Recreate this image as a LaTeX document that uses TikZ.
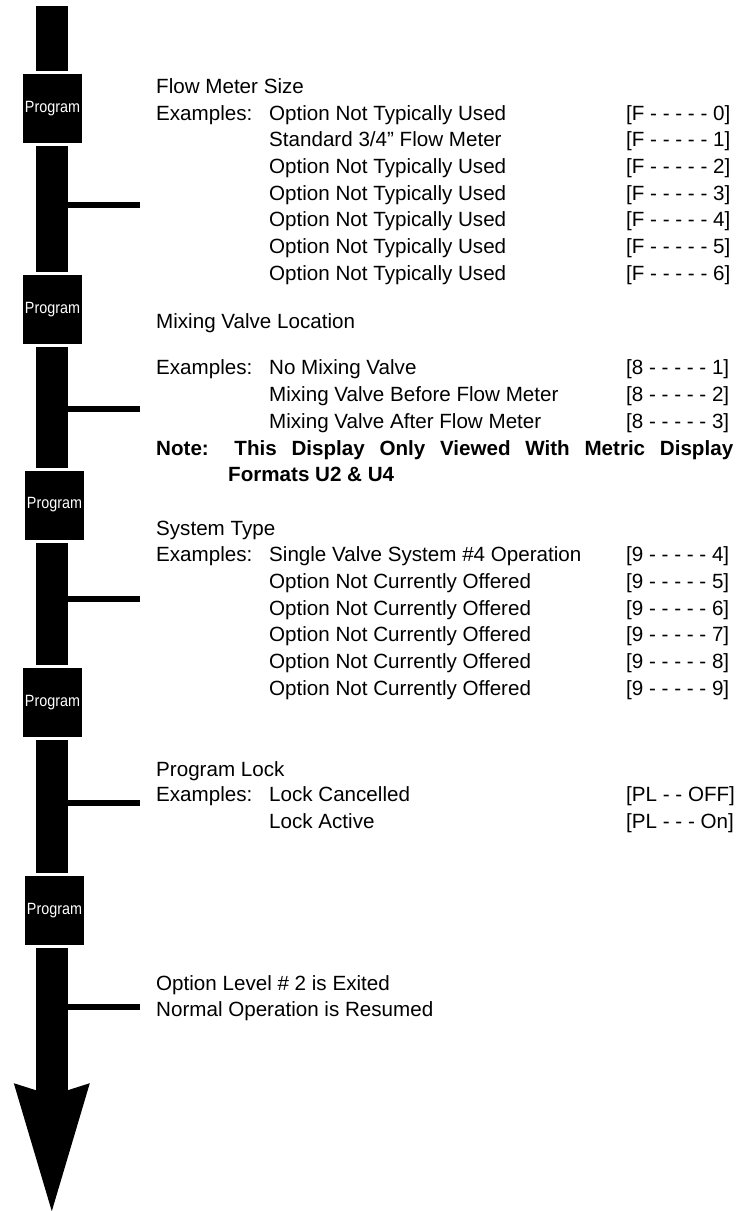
\documentclass[tikz,border=0pt]{standalone}
\usepackage{fontspec}
\setmainfont{Liberation Sans}
\usepackage{graphicx}
\begin{document}
\begin{tikzpicture}[x=1pt,y=-1pt,
  bar/.style={fill=black,inner sep=0pt,minimum width=32pt},
  prog/.style={fill=black,text=white,inner sep=0pt,minimum width=59pt,minimum height=69pt,font=\fontsize{16.3}{18}\selectfont},
  conn/.style={line width=6pt},
  txt/.style={anchor=base west,inner sep=0pt,font=\fontsize{20.6}{24}\selectfont},
  btxt/.style={txt,font=\fontsize{20.6}{24}\selectfont\bfseries},
]
\useasboundingbox (0,0) rectangle (752,1211);
% flow column
\node[bar,minimum height=65pt] (b0) at (52,38.5) {};
\node[prog] (p1) at (52.5,108.5) {\scalebox{0.88}[1]{Program}};
\node[bar,minimum height=126pt] (b1) at (52,209) {};
\node[prog] (p2) at (52.5,309.5) {\scalebox{0.88}[1]{Program}};
\node[bar,minimum height=121pt] (b2) at (52,407.5) {};
\node[prog] (p3) at (54.5,505) {\scalebox{0.88}[1]{Program}};
\node[bar,minimum height=122pt] (b3) at (52,604) {};
\node[prog] (p4) at (52.5,702.5) {\scalebox{0.88}[1]{Program}};
\node[bar,minimum height=133pt] (b4) at (52,806.5) {};
\node[prog] (p5) at (54.5,910.5) {\scalebox{0.88}[1]{Program}};
\node[bar,minimum height=142pt] (b5) at (52,1019) {};
\fill (b5.south west) -- ++(-22,-7) -- ++(38,128) -- ++(38,-128) -- ++(-22,7) -- cycle;
% connectors
\coordinate (c1) at (140,205);
\coordinate (c2) at (140,409);
\coordinate (c3) at (140,599);
\coordinate (c4) at (140,803);
\coordinate (c5) at (140,1007);
\draw[conn] (b1.east |- c1) -- (c1);
\draw[conn] (b2.east |- c2) -- (c2);
\draw[conn] (b3.east |- c3) -- (c3);
\draw[conn] (b4.east |- c4) -- (c4);
\draw[conn] (b5.east |- c5) -- (c5);
% section 1
\node[txt] (s1t) at (156,93.3) {Flow Meter Size};
\node[txt] (s1e) at (156,120) {Examples:};
\node[txt] (s1d0) at (269,120) {Option Not Typically Used};
\node[txt] (s1d1) at (269,146.7) {Standard 3/4” Flow Meter};
\node[txt] (s1d2) at (269,173.3) {Option Not Typically Used};
\node[txt] (s1d3) at (269,200) {Option Not Typically Used};
\node[txt] (s1d4) at (269,226.7) {Option Not Typically Used};
\node[txt] (s1d5) at (269,253.3) {Option Not Typically Used};
\node[txt] (s1d6) at (269,280) {Option Not Typically Used};
\node[txt] (s1c0) at (626,120) {[F - - - - - 0]};
\node[txt] (s1c1) at (626,146.7) {[F - - - - - 1]};
\node[txt] (s1c2) at (626,173.3) {[F - - - - - 2]};
\node[txt] (s1c3) at (626,200) {[F - - - - - 3]};
\node[txt] (s1c4) at (626,226.7) {[F - - - - - 4]};
\node[txt] (s1c5) at (626,253.3) {[F - - - - - 5]};
\node[txt] (s1c6) at (626,280) {[F - - - - - 6]};
% section 2
\node[txt] (s2t) at (156,328) {Mixing Valve Location};
\node[txt] (s2e) at (156,374.7) {Examples:};
\node[txt] (s2d1) at (269,374.7) {No Mixing Valve};
\node[txt] (s2d2) at (269,401.3) {Mixing Valve Before Flow Meter};
\node[txt] (s2d3) at (269,428) {Mixing Valve After Flow Meter};
\node[txt] (s2c1) at (626,374.7) {[8 - - - - - 1]};
\node[txt] (s2c2) at (626,401.3) {[8 - - - - - 2]};
\node[txt] (s2c3) at (626,428) {[8 - - - - - 3]};
\node[btxt] (s2n1) at (156,455) {\makebox[577pt][s]{Note: This Display Only Viewed With Metric Display}};
\node[btxt] (s2n2) at (228,481.7) {Formats U2 \& U4};
% section 3
\node[txt] (s3t) at (156,535) {System Type};
\node[txt] (s3e) at (156,561.7) {Examples:};
\node[txt] (s3d4) at (269,561.7) {Single Valve System \#4 Operation};
\node[txt] (s3d5) at (269,588.3) {Option Not Currently Offered};
\node[txt] (s3d6) at (269,615) {Option Not Currently Offered};
\node[txt] (s3d7) at (269,641.7) {Option Not Currently Offered};
\node[txt] (s3d8) at (269,668.3) {Option Not Currently Offered};
\node[txt] (s3d9) at (269,695) {Option Not Currently Offered};
\node[txt] (s3c4) at (626,561.7) {[9 - - - - - 4]};
\node[txt] (s3c5) at (626,588.3) {[9 - - - - - 5]};
\node[txt] (s3c6) at (626,615) {[9 - - - - - 6]};
\node[txt] (s3c7) at (626,641.7) {[9 - - - - - 7]};
\node[txt] (s3c8) at (626,668.3) {[9 - - - - - 8]};
\node[txt] (s3c9) at (626,695) {[9 - - - - - 9]};
% section 4
\node[txt] (s4t) at (156,776) {Program Lock};
\node[txt] (s4e) at (156,801.7) {Examples:};
\node[txt] (s4d1) at (269,801.7) {Lock Cancelled};
\node[txt] (s4d2) at (269,828.3) {Lock Active};
\node[txt] (s4c1) at (626,801.7) {[PL - - OFF]};
\node[txt] (s4c2) at (626,828.3) {[PL - - - On]};
% section 5
\node[txt] (s5a) at (156,990) {Option Level \# 2 is Exited};
\node[txt] (s5b) at (156,1016.7) {Normal Operation is Resumed};
\end{tikzpicture}
\end{document}
